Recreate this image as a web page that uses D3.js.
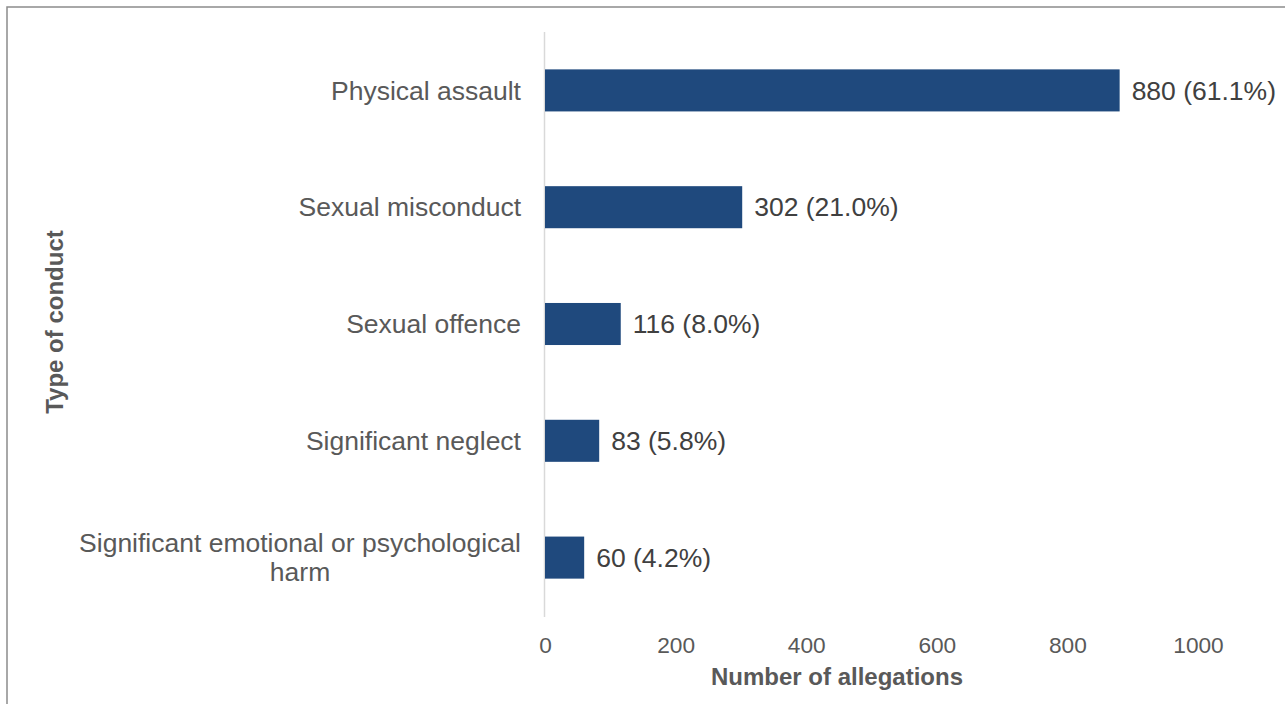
<!DOCTYPE html>
<html><head><meta charset="utf-8">
<script src="https://cdn.jsdelivr.net/npm/d3@7"></script>
<style>body{margin:0;background:#fff;}svg{display:block;font-family:"Liberation Sans",Arial,sans-serif;}</style>
</head><body>
<svg id="chart" width="1285" height="704"></svg>
<script>
const categories = ["Physical assault","Sexual misconduct","Sexual offence","Significant neglect","Significant emotional or psychological harm"];
const categoryLines = [["Physical assault"],["Sexual misconduct"],["Sexual offence"],["Significant neglect"],["Significant emotional or psychological","harm"]];
const values = [880,302,116,83,60];
const percents = ["61.1%","21.0%","8.0%","5.8%","4.2%"];
const xTicks = [0,200,400,600,800,1000];

const svg = d3.select("#chart");
svg.append("rect").attr("x",7).attr("y",7).attr("width",1290).attr("height",710)
  .attr("fill","none").attr("stroke","#8c8c8c").attr("stroke-width",1.5);

const x = d3.scaleLinear().domain([0,1000]).range([545,1198]);
const y = d3.scaleBand().domain(categories).range([32,616]).paddingInner(0.64).paddingOuter(0.32);

// axis line
svg.append("line").attr("x1",544.5).attr("x2",544.5).attr("y1",32).attr("y2",617)
  .attr("stroke","#d9d9d9").attr("stroke-width",1.5);

svg.selectAll("rect.bar").data(categories).enter().append("rect").attr("class","bar")
  .attr("x",x(0)).attr("y",d=>y(d)).attr("height",y.bandwidth())
  .attr("width",(d,i)=>x(values[i])-x(0)).attr("fill","#1f497d");

svg.selectAll("text.val").data(categories).enter().append("text").attr("class","val")
  .attr("x",(d,i)=>x(values[i])+12).attr("y",d=>y(d)+y.bandwidth()/2)
  .attr("dy","0.35em").attr("font-size",26.5).attr("fill","#404040")
  .text((d,i)=>values[i]+" ("+percents[i]+")");

// category labels
categories.forEach((c,i)=>{
  const lines = categoryLines[i];
  const cy = y(c)+y.bandwidth()/2;
  const lh = 29;
  const g = svg.append("text").attr("font-size",26.5).attr("fill","#595959");
  if(lines.length===1){
    g.attr("x",521).attr("y",cy).attr("dy","0.35em").attr("text-anchor","end").text(lines[0]);
  } else {
    const tmp = svg.append("text").attr("font-size",26.5).text(lines[0]);
    const w = tmp.node().getComputedTextLength(); tmp.remove();
    const cx = 521 - w/2;
    lines.forEach((l,k)=>{
      g.append("tspan").attr("x",cx).attr("text-anchor","middle")
        .attr("y",cy + (k-(lines.length-1)/2)*lh).attr("dy","0.35em").text(l);
    });
  }
});

// x axis
const xAxis = d3.axisBottom(x).tickValues(xTicks).tickFormat(d3.format("d")).tickSize(0).tickPadding(0);
const ax = svg.append("g").attr("transform","translate(0,0)").call(xAxis);
ax.select(".domain").remove();
ax.selectAll("text").attr("y",645).attr("dy","0.35em").attr("font-size",22.7).attr("fill","#595959").attr("font-family","Liberation Sans, Arial, sans-serif");

svg.append("text").attr("x",837).attr("y",677).attr("dy","0.35em").attr("text-anchor","middle")
  .attr("font-size",24).attr("font-weight","bold").attr("fill","#595959").text("Number of allegations");
svg.append("text").attr("transform","translate(55,322) rotate(-90)").attr("dy","0.35em")
  .attr("text-anchor","middle").attr("font-size",24).attr("font-weight","bold").attr("fill","#595959").text("Type of conduct");
</script>
</body></html>
